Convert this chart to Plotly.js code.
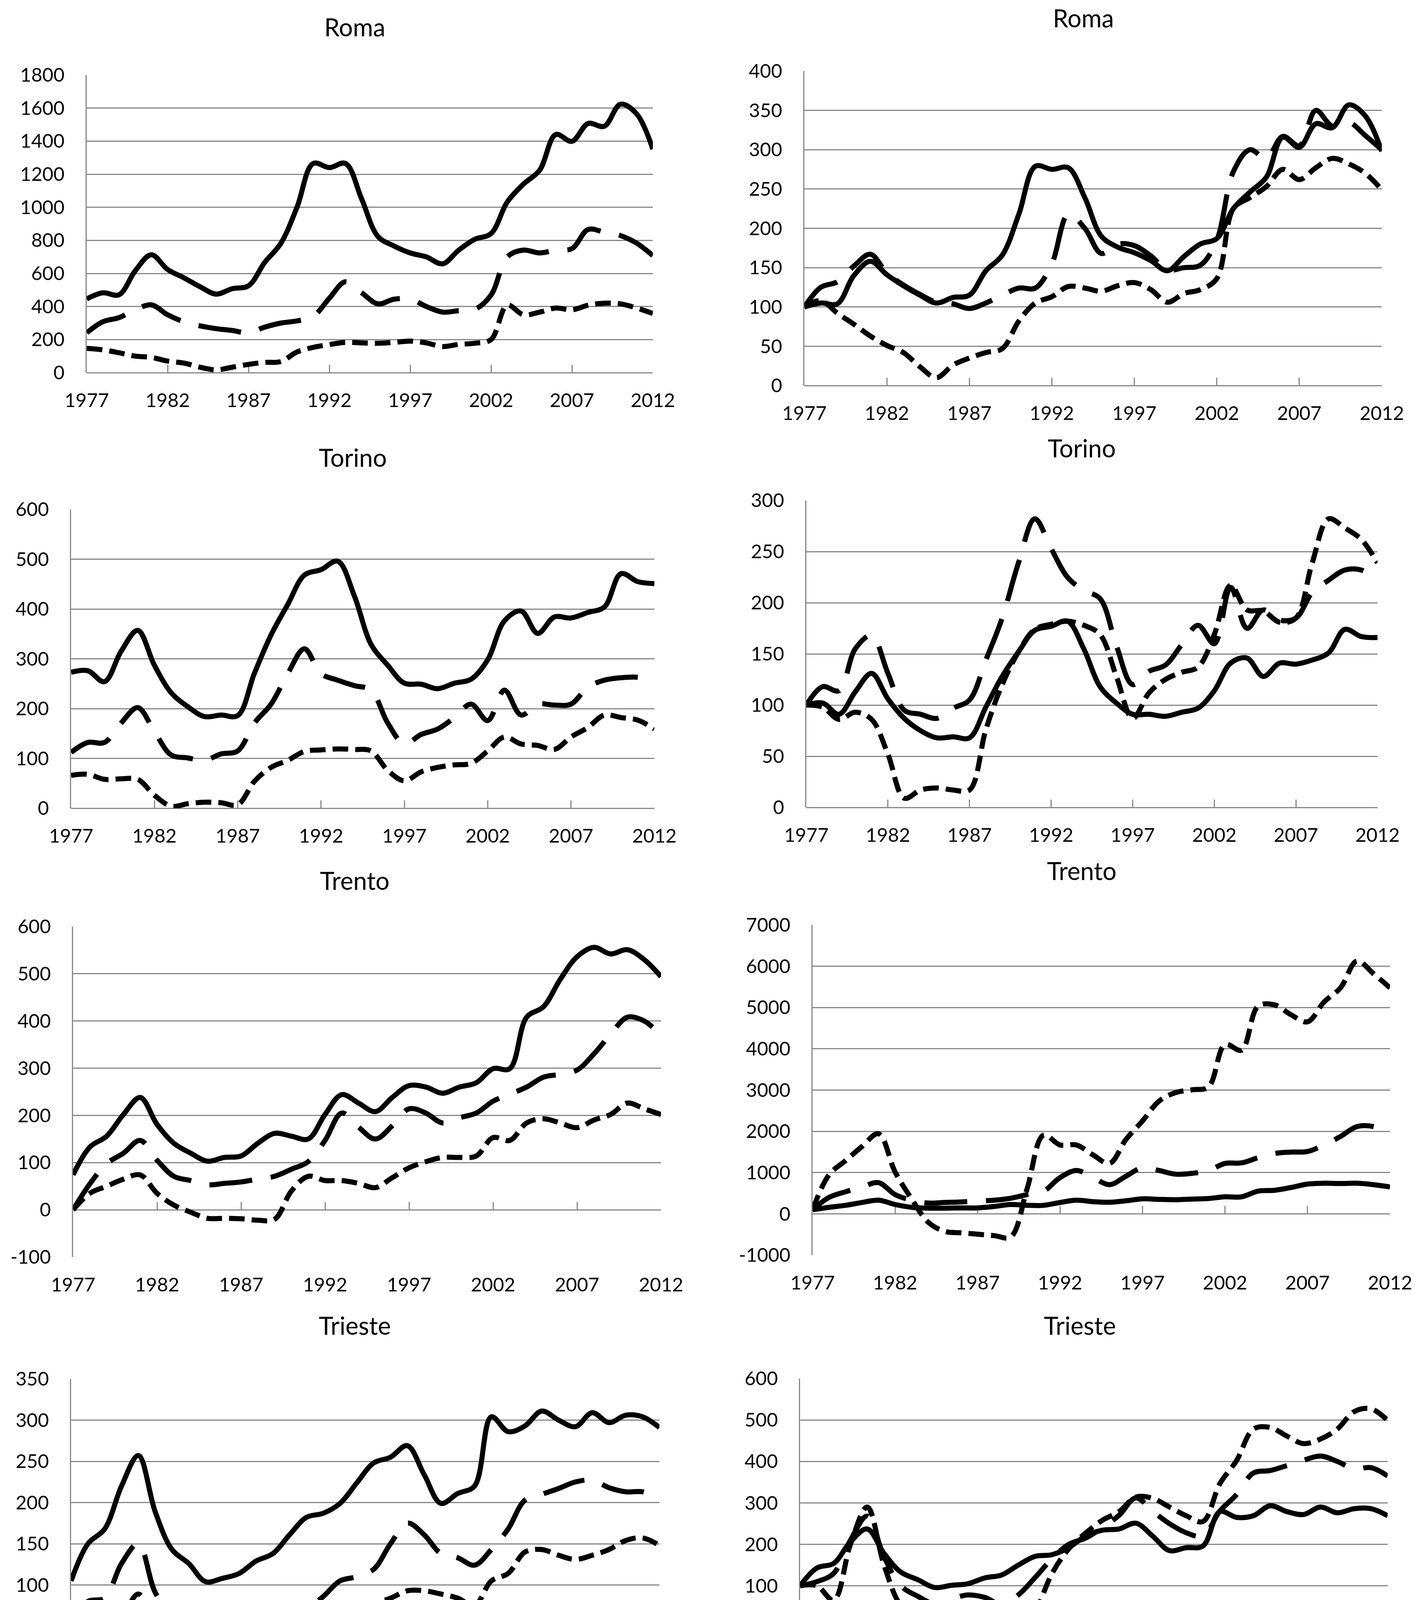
<!DOCTYPE html>
<html>
<head>
<meta charset="utf-8">
<script src="https://cdn.plot.ly/plotly-3.0.1.min.js"></script>
<style>html,body{margin:0;padding:0;background:#fff}#chart{width:3622px;height:5662px}</style>
</head>
<body>
<div id="chart"></div>
<script>
// ---------- DATA ----------
const years = [1977,1978,1979,1980,1981,1982,1983,1984,1985,1986,1987,1988,1989,1990,1991,1992,1993,1994,1995,1996,1997,1998,1999,2000,2001,2002,2003,2004,2005,2006,2007,2008,2009,2010,2011,2012];
const tickYears = [1977,1982,1987,1992,1997,2002,2007,2012];

// Roma (levels)
const romaL_solid = [446,483,471,616,713,624,574,520,475,508,525,666,782,1000,1265,1240,1265,1050,824,766,724,700,658,741,807,841,1032,1140,1224,1440,1399,1507,1490,1623,1565,1352];
const romaL_long  = [241,308,333,380,410,350,308,283,266,255,241,275,300,313,340,450,550,483,416,444,445,400,366,375,383,470,700,741,724,741,750,866,849,829,783,708];
const romaL_short = [147,138,120,100,92,70,58,33,17,33,50,62,67,125,153,170,183,180,178,183,191,180,158,171,178,200,408,350,366,391,380,408,420,416,391,358];
// Roma (index)
const romaR_solid = [100,105,104,140,158,141,127,115,105,112,115,146,166,218,279,275,277,239,190,176,169,159,146,164,180,187,225,246,265,316,303,333,328,357,343,298];
const romaR_long  = [100,125,132,152,167,143,128,116,106,104,98,105,115,124,124,155,218,200,168,180,178,165,147,150,153,185,272,300,289,317,305,350,330,335,318,300];
const romaR_short = [100,108,92,78,63,51,42,24,10,26,35,42,47,82,105,113,126,124,120,127,131,122,106,117,122,136,225,239,253,275,262,277,289,282,270,249];
// Torino (levels)
const torL_solid = [273,276,254,315,357,287,232,204,184,187,186,271,348,409,468,479,496,426,329,287,251,249,240,251,259,298,376,396,351,384,382,393,404,471,455,451];
const torL_long  = [112,132,132,171,202,154,107,101,96,109,115,171,209,270,320,270,257,246,237,171,129,148,159,182,209,176,237,187,209,207,209,243,257,262,263,257];
const torL_short = [66,68,58,59,58,26,4,9,12,11,7,54,82,96,114,117,119,118,115,76,55,73,82,87,90,115,143,129,126,118,143,162,187,182,177,159];
// Torino (index)
const torR_solid = [100,102,91,113,131,106,87,75,68,69,68,98,128,152,173,177,182,155,118,102,91,91,89,93,97,114,141,146,128,141,140,144,151,174,167,166];
const torR_long  = [100,118,114,155,168,131,95,91,87,97,105,144,185,239,282,253,225,212,204,158,120,133,139,159,178,160,215,175,193,183,185,210,222,232,232,222];
const torR_short = [100,98,86,93,86,52,9,17,19,17,17,76,120,152,174,179,182,178,169,128,87,112,125,132,137,169,217,193,192,181,185,239,282,273,262,239];
// Trento (levels)
const treL_solid = [74,133,156,202,238,181,141,120,103,111,114,141,162,156,150,202,244,226,208,238,263,260,247,260,269,299,299,408,430,488,536,556,542,551,530,494];
const treL_long  = [0,55,98,120,147,105,71,62,53,56,59,65,71,86,102,147,205,175,150,178,214,205,184,195,205,230,245,260,281,287,296,330,372,408,400,369];
const treL_short = [0,35,50,65,74,35,10,-5,-18,-18,-19,-22,-20,40,71,62,62,56,47,68,89,102,111,111,114,153,147,184,193,184,174,190,202,226,214,202];
// Trento (index)
const treR_solid = [100,158,206,275,330,226,158,137,137,144,144,178,226,206,206,275,330,295,281,316,364,350,343,357,371,412,412,549,570,638,721,741,734,741,707,652];
const treR_long  = [100,398,535,650,755,467,330,261,275,288,309,330,377,467,549,878,1050,878,707,913,1119,1050,961,981,1050,1222,1235,1359,1462,1496,1510,1668,1874,2114,2114,1942];
const treR_short = [100,947,1290,1633,1942,1016,364,-200,-425,-460,-494,-528,-563,604,1908,1668,1668,1428,1222,1805,2251,2731,2937,3006,3075,4104,3967,5030,5065,4825,4653,5133,5477,6128,5820,5477];
// Trieste (levels)
const triL_solid = [105,150,168,220,257,189,143,126,104,108,114,129,138,161,182,187,199,224,248,255,269,234,199,211,220,304,286,293,311,300,292,309,297,306,304,291];
const triL_long  = [54,80,84,126,150,91,63,42,31,40,47,42,31,54,70,86,105,110,119,150,175,161,138,133,124,143,168,203,210,217,225,227,218,213,213,204];
const triL_short = [29,32,21,56,89,52,16,3,-3,-7,-10,-16,-26,-14,3,35,63,68,77,84,93,93,89,84,75,105,114,140,143,136,131,136,143,154,157,148];
// Trieste (index)
const triR_solid = [100,143,154,206,237,178,133,115,96,101,105,119,126,150,171,175,192,220,234,237,251,220,185,192,196,279,265,269,293,279,272,290,276,286,286,269];
const triR_long  = [100,110,130,210,268,170,100,75,57,68,78,72,55,78,120,165,200,215,240,270,312,280,250,228,220,280,320,372,378,390,403,413,400,382,385,365];
const triR_short = [100,100,65,200,290,150,52,21,-17,-31,-38,-56,-94,-52,31,129,189,227,258,279,314,311,290,269,255,346,402,478,482,461,443,454,478,520,527,499];
// Venezia (levels)
const venL_solid = [331,374,368,515,656,546,454,411,374,393,411,454,491,773,1092,896,712,718,699,663,644,665,681,736,779,816,675,1196,1117,1092,1018,1153,1141,1202,1172,1117];
const venL_long  = [190,245,258,294,301,258,227,209,190,270,331,334,337,405,466,466,472,393,337,307,294,307,328,307,300,380,442,638,552,515,534,632,626,663,650,613];
const venL_short = [76,108,110,117,123,86,71,92,104,67,47,37,31,172,282,294,307,258,209,196,194,188,182,196,209,221,368,503,454,472,466,454,448,439,436,417];
// Venezia (index)
const venR_solid = [101,117,120,157,198,160,138,123,114,117,120,138,145,226,332,276,216,216,210,201,195,201,207,223,235,248,207,363,338,329,307,351,347,366,357,341];
const venR_long  = [100,130,132,145,160,140,115,105,110,138,173,175,176,210,245,250,254,213,188,167,151,160,170,160,151,207,220,332,285,300,279,326,332,347,347,319];
const venR_short = [100,120,130,140,157,120,80,98,110,100,70,45,35,200,345,355,369,319,260,248,241,235,226,238,257,260,400,606,556,581,566,563,541,535,528,510];

const titles = ['Roma','Roma','Torino','Torino','Trento','Trento','Trieste','Trieste','Venezia','Venezia'];

// ---------- LAYOUT SPEC (pixels) ----------
const W = 3622, H = 5662;
const panels = [
  {series:[romaL_solid,romaL_long,romaL_short], box:[222,1671,192,954],  yr:[0,1800],   dt:200,  tp:[908,68]},
  {series:[romaR_solid,romaR_long,romaR_short], box:[2059,3537,182,987], yr:[0,400],    dt:50,   tp:[2773,46]},
  {series:[torL_solid,torL_long,torL_short],    box:[182,1675,1304,2069], yr:[0,600],   dt:100,  tp:[903,1171]},
  {series:[torR_solid,torR_long,torR_short],    box:[2064,3526,1281,2067],yr:[0,300],   dt:50,   tp:[2769,1146]},
  {series:[treL_solid,treL_long,treL_short],    box:[187,1692,2372,3218], yr:[-100,600],dt:100,  tp:[908,2253]},
  {series:[treR_solid,treR_long,treR_short],    box:[2080,3558,2368,3213],yr:[-1000,7000],dt:1000,tp:[2769,2228]},
  {series:[triL_solid,triL_long,triL_short],    box:[182,1688,3530,4374], yr:[-50,350], dt:50,   tp:[908,3392]},
  {series:[triR_solid,triR_long,triR_short],    box:[2048,3552,3529,4378],yr:[-200,600],dt:100,  tp:[2764,3392]},
  {series:[venL_solid,venL_long,venL_short],    box:[205,1694,4692,5549], yr:[0,1400],  dt:200,  tp:[908,4550]},
  {series:[venR_solid,venR_long,venR_short],    box:[2045,3554,4693,5536],yr:[0,700],   dt:100,  tp:[2773,4550]}
];

const GRID = '#888888';
const FONT = 'Lato, "Open Sans", sans-serif';
const dashes = ['solid', '110px,48px', '40px,18px'];

const traces = [];
const layout = {
  width: W, height: H,
  margin: {l:0, r:0, t:0, b:0, pad:0},
  paper_bgcolor: '#ffffff', plot_bgcolor: 'rgba(0,0,0,0)',
  showlegend: false,
  font: {family: FONT, color: '#000'},
  annotations: []
};

panels.forEach((p, i) => {
  const k = i + 1;
  const kt = 10 + k;
  const xs = k === 1 ? '' : String(k);
  const [l, r, t, b] = p.box;
  const xd = [l / W, r / W];
  const yd = [1 - b / H, 1 - t / H];

  p.series.forEach((s, j) => {
    traces.push({
      x: years, y: s, type: 'scatter', mode: 'lines',
      xaxis: 'x' + xs, yaxis: 'y' + xs,
      line: {color: '#000000', width: 13, shape: 'spline', smoothing: 1, dash: dashes[j]},
      hoverinfo: 'skip', showlegend: false
    });
  });
  // invisible trace that registers the tick axis crossing at zero
  traces.push({
    x: years, y: p.series[0], type: 'scatter', mode: 'lines',
    xaxis: 'x' + kt, yaxis: 'y' + xs,
    line: {width: 0, color: 'rgba(0,0,0,0)'}, opacity: 0,
    hoverinfo: 'skip', showlegend: false
  });

  const yticks = [];
  for (let v = p.yr[0]; v <= p.yr[1]; v += p.dt) yticks.push(v);

  layout['xaxis' + xs] = {
    domain: xd, range: [1977, 2012], anchor: 'y' + xs,
    showline: false, showgrid: false, zeroline: false, ticks: '',
    tickmode: 'array', tickvals: tickYears, ticktext: tickYears.map(String),
    tickfont: {family: FONT, size: 49, color: '#000'},
    ticklabelstandoff: 38, fixedrange: true
  };
  const zeroPos = yd[0] + (0 - p.yr[0]) / (p.yr[1] - p.yr[0]) * (yd[1] - yd[0]);
  layout['xaxis' + kt] = {
    range: [1977, 2012], overlaying: 'x' + xs, anchor: 'free', position: zeroPos,
    showline: true, linecolor: GRID, linewidth: 3,
    ticks: 'inside', ticklen: 19, tickwidth: 3, tickcolor: GRID,
    tickmode: 'array', tickvals: tickYears, showticklabels: false,
    showgrid: false, zeroline: false, fixedrange: true, layer: 'below traces'
  };
  layout['yaxis' + xs] = {
    domain: yd, range: p.yr, anchor: 'x' + xs,
    tickmode: 'array', tickvals: yticks, ticktext: yticks.map(v => String(v)),
    showline: true, linecolor: GRID, linewidth: 3,
    showgrid: true, gridcolor: GRID, gridwidth: 3, zeroline: false,
    ticks: '', tickfont: {family: FONT, size: 49, color: '#000'},
    ticklabelstandoff: 44, fixedrange: true, layer: 'below traces'
  };
  layout.annotations.push({
    text: titles[i], x: p.tp[0] / W, y: 1 - p.tp[1] / H,
    xref: 'paper', yref: 'paper', xanchor: 'center', yanchor: 'middle',
    showarrow: false, font: {family: FONT, size: 63, color: '#000'}
  });
});

Plotly.newPlot('chart', traces, layout, {staticPlot: true, displayModeBar: false});
</script>
</body>
</html>
